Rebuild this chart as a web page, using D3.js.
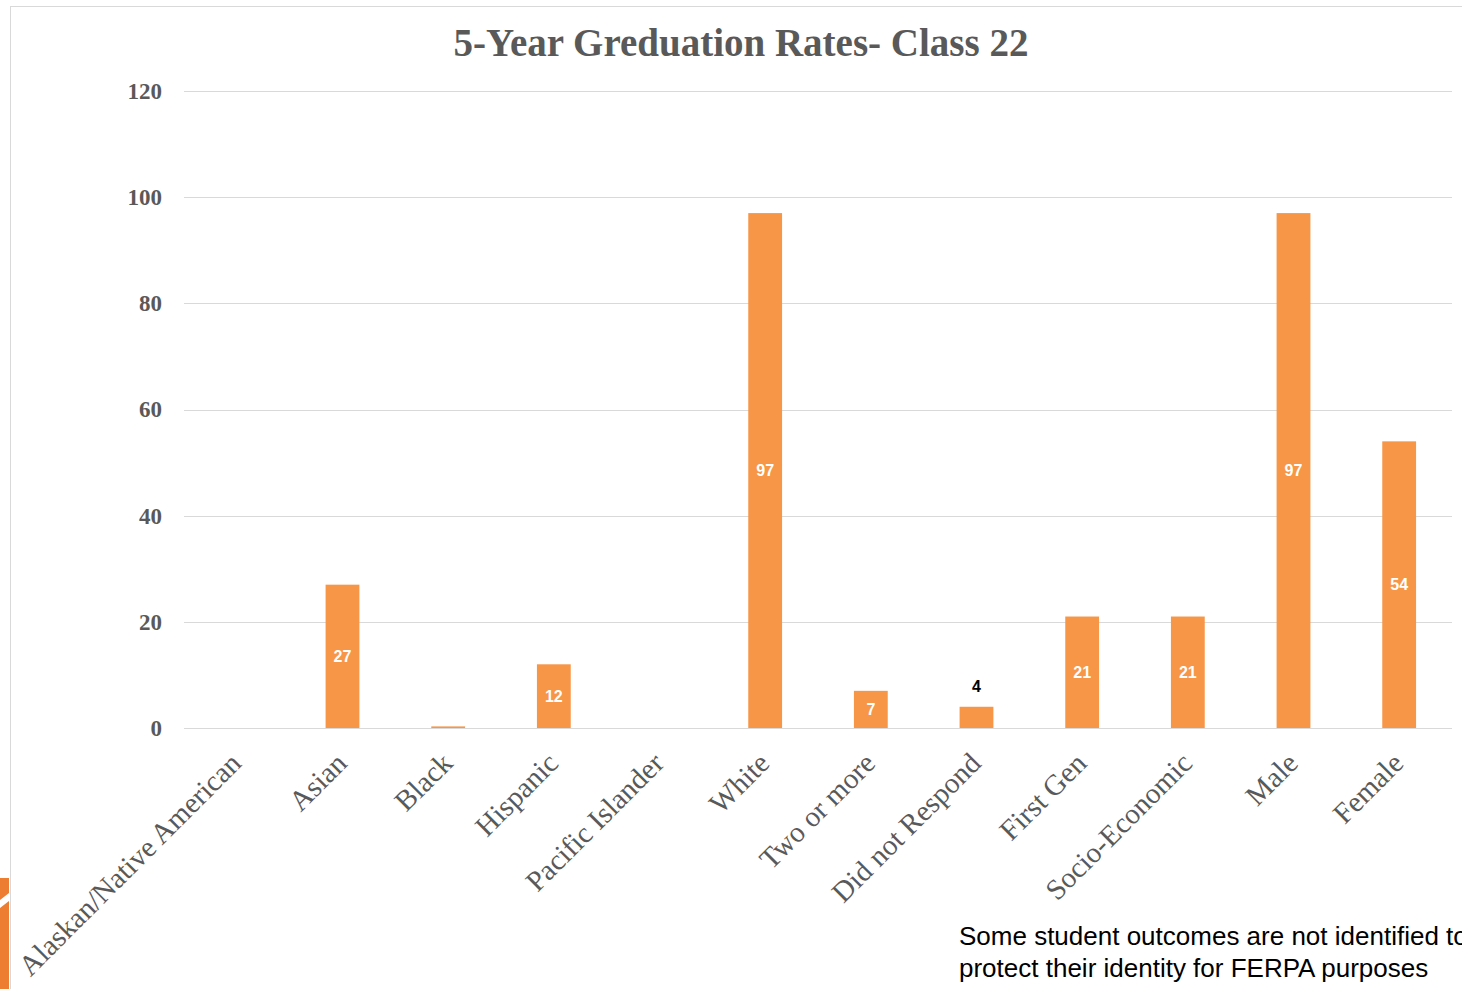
<!DOCTYPE html>
<html>
<head>
<meta charset="utf-8">
<script src="https://cdn.jsdelivr.net/npm/d3@7"></script>
<style>
  body { margin: 0; background: #fff; }
  svg { display: block; }
  .title { font-family: 'Liberation Serif', serif; font-weight: bold; font-size: 39px; fill: #595959; }
  .axis text { font-family: 'Liberation Serif', serif; fill: #595959; }
  .y-axis text { font-weight: bold; font-size: 23px; }
  .x-axis text { font-size: 29px; }
  .note { font-family: 'Liberation Sans', sans-serif; font-size: 26px; fill: #000; }
</style>
</head>
<body>
<svg width="1462" height="989"></svg>
<script>
const categories = ['Alaskan/Native American', 'Asian', 'Black', 'Hispanic', 'Pacific Islander', 'White',
  'Two or more', 'Did not Respond', 'First Gen', 'Socio-Economic', 'Male', 'Female'];
const values = [0, 27, 0.3, 12, 0, 97, 7, 4, 21, 21, 97, 54];
const valueLabels = ['', '27', '', '12', '', '97', '7', '4', '21', '21', '97', '54'];
const yTicks = [0, 20, 40, 60, 80, 100, 120];

const svg = d3.select('svg');
const width  = +svg.attr('width');
const height = +svg.attr('height');

const data = categories.map((c, i) => ({ cat: c, value: values[i], label: valueLabels[i] }));

const margin = { top: 91, left: 184, right: 10, bottom: 261 };
const innerWidth = width - margin.left - margin.right;
const innerHeight = height - margin.top - margin.bottom;

// chart frame and corner decoration
svg.append('rect')
  .attr('x', 10.5).attr('y', 6.5)
  .attr('width', 1500).attr('height', 1100)
  .attr('fill', 'none').attr('stroke', '#d9d9d9');
svg.append('path')
  .attr('d', 'M0,878 L9,878 L9,893 L0,900 Z M0,908 L9,901 L9,989 L0,989 Z')
  .attr('fill', '#ed7d31');

const root = svg.append('g')
  .attr('transform', `translate(${margin.left}, ${margin.top})`);

svg.append('text')
  .attr('class', 'title')
  .attr('x', 741).attr('y', 56)
  .attr('text-anchor', 'middle')
  .text('5-Year Greduation Rates- Class 22');

const xScale = d3.scaleBand()
  .domain(categories)
  .range([0, innerWidth])
  .paddingInner(0.68)
  .paddingOuter(0.34);

const yScale = d3.scaleLinear()
  .domain([0, 120])
  .range([innerHeight, 0]);

// gridlines
root.append('g')
  .selectAll('line')
  .data(yTicks)
  .join('line')
    .attr('x1', 0).attr('x2', innerWidth)
    .attr('y1', d => Math.round(yScale(d)) + 0.5)
    .attr('y2', d => Math.round(yScale(d)) + 0.5)
    .attr('stroke', '#d9d9d9');

const yAxis = d3.axisLeft(yScale)
  .tickValues(yTicks)
  .tickSize(0)
  .tickPadding(22);

root.append('g')
  .attr('class', 'axis y-axis')
  .call(yAxis)
  .call(g => g.select('.domain').remove());

const xAxis = d3.axisBottom(xScale)
  .tickSize(0)
  .tickPadding(0);

root.append('g')
  .attr('class', 'axis x-axis')
  .attr('transform', `translate(0, ${innerHeight})`)
  .call(xAxis)
  .call(g => g.select('.domain').remove())
  .selectAll('text')
    .attr('text-anchor', 'end')
    .attr('dy', 0)
    .attr('transform', 'translate(6, 37) rotate(-45)');

root.append('g')
  .selectAll('rect')
  .data(data)
  .join('rect')
    .attr('x', d => xScale(d.cat))
    .attr('y', d => yScale(d.value))
    .attr('width', xScale.bandwidth())
    .attr('height', d => innerHeight - yScale(d.value))
    .attr('fill', '#f79646');

root.append('g')
  .selectAll('text')
  .data(data.filter(d => d.label))
  .join('text')
    .attr('x', d => xScale(d.cat) + xScale.bandwidth() / 2)
    .attr('y', d => d.value < 6
      ? yScale(d.value) - 20
      : (yScale(d.value) + innerHeight) / 2)
    .attr('dy', '0.35em')
    .attr('text-anchor', 'middle')
    .attr('font-family', 'Liberation Sans, sans-serif')
    .attr('font-weight', 'bold')
    .attr('font-size', 16)
    .attr('fill', d => d.value < 6 ? '#000' : '#fff')
    .text(d => d.label);

const note = svg.append('text')
  .attr('class', 'note')
  .attr('x', 959).attr('y', 945);
note.append('tspan').attr('x', 959).text('Some student outcomes are not identified to');
note.append('tspan').attr('x', 959).attr('dy', 32).text('protect their identity for FERPA purposes');
</script>
</body>
</html>
